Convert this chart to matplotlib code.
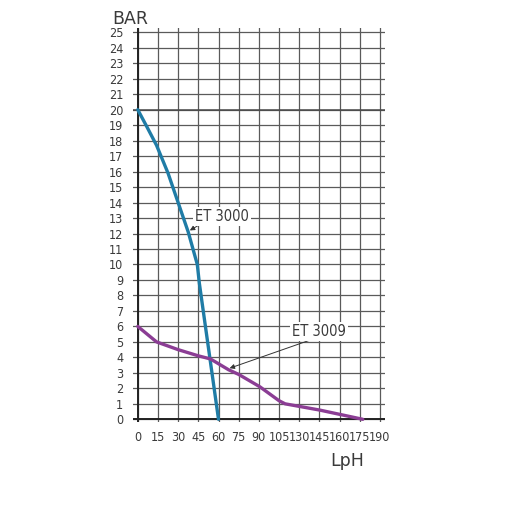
import matplotlib
matplotlib.use("agg")
import matplotlib.pyplot as plt

# x axis is categorical: evenly spaced labels
x_labels = ['0', '15', '30', '45', '60', '75', '90', '105', '130', '145', '160', '175', '190']
y_ticks = list(range(0, 26))

# ET 3000 (positions in tick-index units)
et3000_x = [0, 0.45, 0.93, 1.5, 2.0, 2.5, 2.95, 3.05, 4.0]
et3000_y = [20, 18.9, 17.7, 15.9, 14.0, 12.1, 10.0, 8.8, 0]

# ET 3009
et3009_x = [0, 0.93, 2.0, 3.0, 3.6, 4.5, 5.0, 6.05, 7.0, 7.3, 9.0, 11.15]
et3009_y = [6, 5.0, 4.5, 4.1, 3.9, 3.2, 2.9, 2.1, 1.2, 1.0, 0.6, 0]

font = ['DejaVu Sans', 'Liberation Sans']
txt_col = '#3a3a3a'

fig = plt.figure(figsize=(5.12, 5.12), dpi=100)
ax = fig.add_axes([0.26, 0.175, 0.492, 0.771])

ax.set_xlim(-0.23, 12.25)
ax.set_ylim(-0.2, 25.3)
for s in ax.spines.values():
    s.set_visible(False)

ax.set_xticks(range(len(x_labels)))
ax.set_xticklabels(x_labels, family=font, stretch='condensed', fontsize=9, color=txt_col)
ax.set_yticks(y_ticks)
ax.set_yticklabels([str(v) for v in y_ticks], family=font, stretch='condensed', fontsize=9, color=txt_col)
ax.tick_params(axis='both', length=0)
ax.tick_params(axis='x', pad=6)
ax.tick_params(axis='y', pad=7)
ax.grid(True, color='#5a5a5a', linewidth=0.9)
ax.set_axisbelow(True)

# darker base lines
ax.axhline(0, color='#222222', linewidth=1.4, zorder=1)
ax.axvline(0, color='#222222', linewidth=1.4, zorder=1)
ax.axhline(20, color='#4a4a4a', linewidth=1.1, zorder=1)

ax.plot(et3000_x, et3000_y, color='#1f7ca6', linewidth=2.4, solid_capstyle='round', zorder=3)
ax.plot(et3009_x, et3009_y, color='#8b3d94', linewidth=2.4, solid_capstyle='round', zorder=3)

bbox = dict(facecolor='white', edgecolor='none', pad=1.5)
arrow = dict(arrowstyle='-|>', color='#333333', linewidth=0.7, mutation_scale=7, shrinkA=0, shrinkB=0)
ax.annotate('', xy=(2.58, 12.2), xytext=(3.1, 12.6), arrowprops=arrow, zorder=4)
ax.text(4.15, 13.1, 'ET 3000', ha='center', va='center', family=font, stretch='condensed',
        fontsize=10.5, color=txt_col, bbox=bbox, zorder=4)
ax.annotate('', xy=(4.55, 3.3), xytext=(8.5, 5.1), arrowprops=arrow, zorder=4)
ax.text(8.98, 5.7, 'ET 3009', ha='center', va='center', family=font, stretch='condensed',
        fontsize=10.5, color=txt_col, bbox=bbox, zorder=4)

fig.text(130 / 512, 1 - 19 / 512, 'BAR', ha='center', va='center', family=font,
         fontsize=12.5, color=txt_col)
fig.text(347 / 512, 1 - 461 / 512, 'LpH', ha='center', va='center', family=font,
         fontsize=12.5, color=txt_col)

fig.savefig('out.png', dpi=100)
